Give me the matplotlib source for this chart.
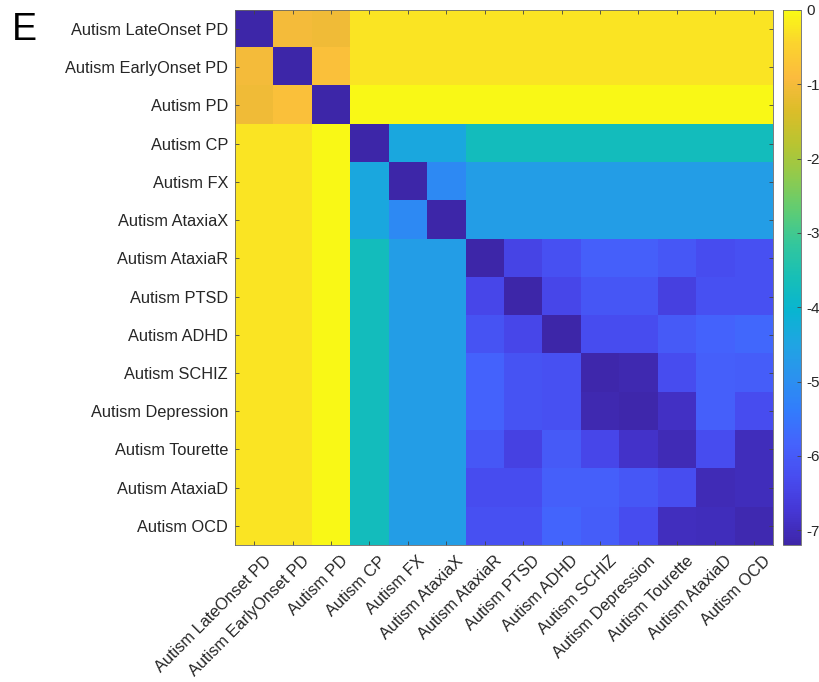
import numpy as np
import matplotlib
matplotlib.use('Agg')
import matplotlib.pyplot as plt
import matplotlib.transforms as mtransforms
from matplotlib.colors import LinearSegmentedColormap

plt.rcParams['font.family'] = ['Liberation Sans', 'DejaVu Sans']
plt.rcParams['axes.unicode_minus'] = False

labels = ['Autism LateOnset PD', 'Autism EarlyOnset PD', 'Autism PD', 'Autism CP',
          'Autism FX', 'Autism AtaxiaX', 'Autism AtaxiaR', 'Autism PTSD',
          'Autism ADHD', 'Autism SCHIZ', 'Autism Depression', 'Autism Tourette',
          'Autism AtaxiaD', 'Autism OCD']

# log-scale similarity scores, one row per disorder pair
row_late_pd = [-7.2, -1.0, -1.05] + [-0.28] * 11
row_early_pd = [-1.0, -7.2, -0.8] + [-0.28] * 11
row_pd = [-1.05, -0.8, -7.2] + [-0.03] * 11
row_cp = [-0.28, -0.28, -0.03, -7.2, -4.4, -4.4] + [-3.7] * 8
row_fx = [-0.28, -0.28, -0.03, -4.4, -7.2, -5.1] + [-4.65] * 8
row_ataxiax = [-0.28, -0.28, -0.03, -4.4, -5.1, -7.2] + [-4.65] * 8
left_block = [-0.28, -0.28, -0.03, -3.7, -4.65, -4.65]
row_ataxiar = left_block + [-7.2, -6.45, -6.2, -5.9, -5.9, -6.05, -6.3, -6.2]
row_ptsd = left_block + [-6.4, -7.2, -6.4, -6.1, -6.1, -6.55, -6.2, -6.2]
row_adhd = left_block + [-6.15, -6.4, -7.2, -6.3, -6.3, -6.0, -5.85, -5.75]
row_schiz = left_block + [-5.85, -6.15, -6.2, -7.15, -7.1, -6.3, -5.9, -5.95]
row_depression = left_block + [-5.85, -6.15, -6.2, -7.1, -7.15, -6.9, -5.9, -6.3]
row_tourette = left_block + [-6.05, -6.5, -6.0, -6.4, -6.85, -7.05, -6.3, -7.0]
row_ataxiad = left_block + [-6.3, -6.3, -5.9, -5.9, -6.05, -6.25, -7.05, -7.0]
row_ocd = left_block + [-6.2, -6.2, -5.8, -5.95, -6.3, -6.95, -7.0, -7.1]

scores = np.array([row_late_pd, row_early_pd, row_pd, row_cp, row_fx, row_ataxiax,
                   row_ataxiar, row_ptsd, row_adhd, row_schiz, row_depression,
                   row_tourette, row_ataxiad, row_ocd])

cbar_ticks = [0, -1, -2, -3, -4, -5, -6, -7]

# parula-like colormap
parula = LinearSegmentedColormap.from_list('parula', [
    (0.2422, 0.1504, 0.6603), (0.2704, 0.2138, 0.8346), (0.2813, 0.2985, 0.9397),
    (0.2710, 0.3860, 0.9898), (0.1950, 0.4861, 0.9887), (0.1686, 0.5705, 0.9357),
    (0.1253, 0.6453, 0.8887), (0.0328, 0.7071, 0.8183), (0.0899, 0.7489, 0.7156),
    (0.2003, 0.7787, 0.6146), (0.3671, 0.8021, 0.4563), (0.5609, 0.7943, 0.3050),
    (0.7218, 0.7703, 0.1924), (0.8600, 0.7413, 0.1587), (0.9842, 0.7330, 0.2446),
    (0.9835, 0.8280, 0.1817), (0.9769, 0.9839, 0.0805)], N=256)

txt = '#262626'
fs = 11.8
fig = plt.figure(figsize=(8.2, 6.82), dpi=100)
ax = fig.add_axes([0.2866, 0.2009, 0.656, 0.7845])
im = ax.imshow(scores, cmap=parula, vmin=-7.2, vmax=0, aspect='auto',
               interpolation='nearest')

n = len(labels)
ax.set_xticks(range(n))
ax.set_yticks(range(n))
ax.set_yticklabels(labels, fontsize=fs, color=txt)
ax.set_xticklabels(labels, fontsize=fs, color=txt, rotation=45,
                   ha='right', va='top', rotation_mode='anchor')
ax.tick_params(direction='in', length=3, width=0.6, color='#444444',
               top=True, right=True, pad=5)
ax.tick_params(axis='x', pad=6)
# nudge the slanted labels so they sit just right of their ticks
shift = mtransforms.ScaledTranslation(0.09, 0, fig.dpi_scale_trans)
for lab in ax.get_xticklabels():
    lab.set_transform(lab.get_transform() + shift)
for s in ax.spines.values():
    s.set_color('#666666')
    s.set_linewidth(0.6)

cax = fig.add_axes([0.955, 0.2009, 0.022, 0.7845])
cb = fig.colorbar(im, cax=cax, ticks=cbar_ticks)
cb.ax.tick_params(direction='in', length=3, width=0.6, labelsize=11,
                  labelcolor=txt, color='#444444')
cb.outline.set_edgecolor('#666666')
cb.outline.set_linewidth(0.6)

fig.text(0.014, 0.982, 'E', fontsize=27, va='top', ha='left', color='black')

fig.savefig('out.png', dpi=100)
